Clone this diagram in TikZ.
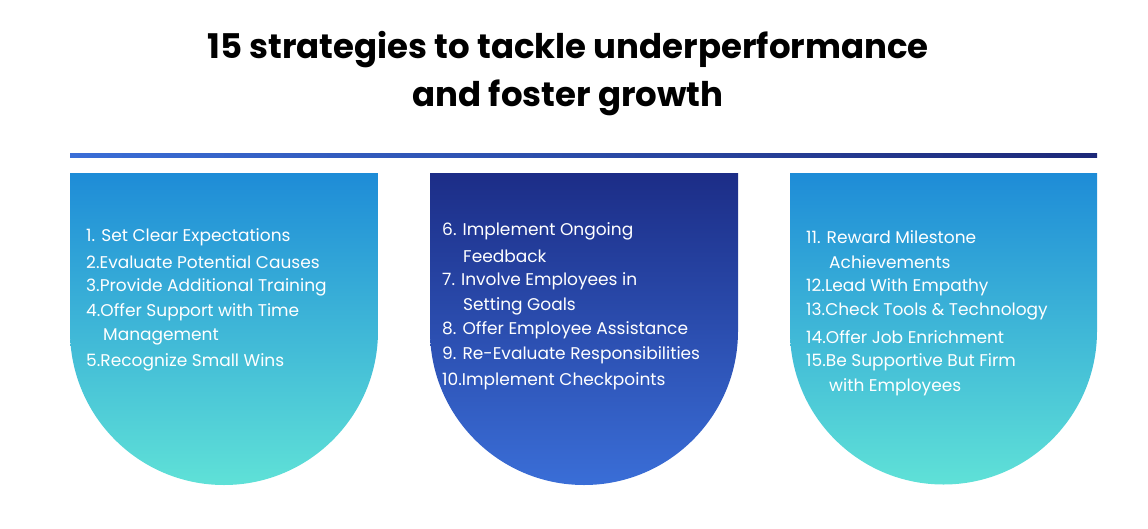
\documentclass[tikz,border=0pt]{standalone}
\usepackage{fontspec}
\setmainfont{Poppins}
\begin{document}
\begin{tikzpicture}[x=0.03cm,y=-0.03cm,
  ttl/.style={font=\fontsize{29}{34}\selectfont\bfseries,text=black},
  itm/.style={font=\fontsize{14.5}{17}\selectfont,text=white,anchor=west,inner sep=0}]
\useasboundingbox (0,0) rectangle (1148,528);
\node[ttl] (t1) at (568,50) {15 strategies to tackle underperformance};
\node[ttl] (t2) at (568,98) {and foster growth};
\shade[left color={rgb,255:red,58;green,110;blue,215}, right color={rgb,255:red,28;green,40;blue,120}] (70,153) rectangle (1097,157);
% shapes
\shade[top color={rgb,255:red,30;green,140;blue,215}, bottom color={rgb,255:red,95;green,225;blue,215}]
  (70,173) -- (378,173) -- (378,331) arc[start angle=0,end angle=-180,x radius=154,y radius=-154] -- cycle;
\shade[top color={rgb,255:red,28;green,45;blue,135}, bottom color={rgb,255:red,58;green,110;blue,215}]
  (430,173) -- (738,173) -- (738,331) arc[start angle=0,end angle=-180,x radius=154,y radius=-154] -- cycle;
\shade[top color={rgb,255:red,30;green,140;blue,215}, bottom color={rgb,255:red,95;green,225;blue,215}]
  (790,173) -- (1097,173) -- (1097,331) arc[start angle=0,end angle=-180,x radius=153.5,y radius=-153.5] -- cycle;
% left
\node[itm] (a1) at (86,237) {1. Set Clear Expectations};
\node[itm] (a2) at (86,262) {2.Evaluate Potential Causes};
\node[itm] (a3) at (86,287) {3.Provide Additional Training};
\node[itm] (a4) at (86,312) {4.Offer Support with Time};
\node[itm] (a5) at (103,337) {Management};
\node[itm] (a6) at (86,362) {5.Recognize Small Wins};
% middle
\node[itm] (b1) at (442,231) {6. Implement Ongoing};
\node[itm] (b2) at (463,256) {Feedback};
\node[itm] (b3) at (442,281) {7. Involve Employees in};
\node[itm] (b4) at (463,306) {Setting Goals};
\node[itm] (b5) at (442,330) {8. Offer Employee Assistance};
\node[itm] (b6) at (442,355) {9. Re-Evaluate Responsibilities};
\node[itm] (b7) at (442,381) {10.Implement Checkpoints};
% right
\node[itm] (c1) at (806,237) {11. Reward Milestone};
\node[itm] (c2) at (829,262) {Achievements};
\node[itm] (c3) at (806,287) {12.Lead With Empathy};
\node[itm] (c4) at (806,312) {13.Check Tools \& Technology};
\node[itm] (c5) at (806,337) {14.Offer Job Enrichment};
\node[itm] (c6) at (806,362) {15.Be Supportive But Firm};
\node[itm] (c7) at (829,387) {with Employees};
\end{tikzpicture}
\end{document}
